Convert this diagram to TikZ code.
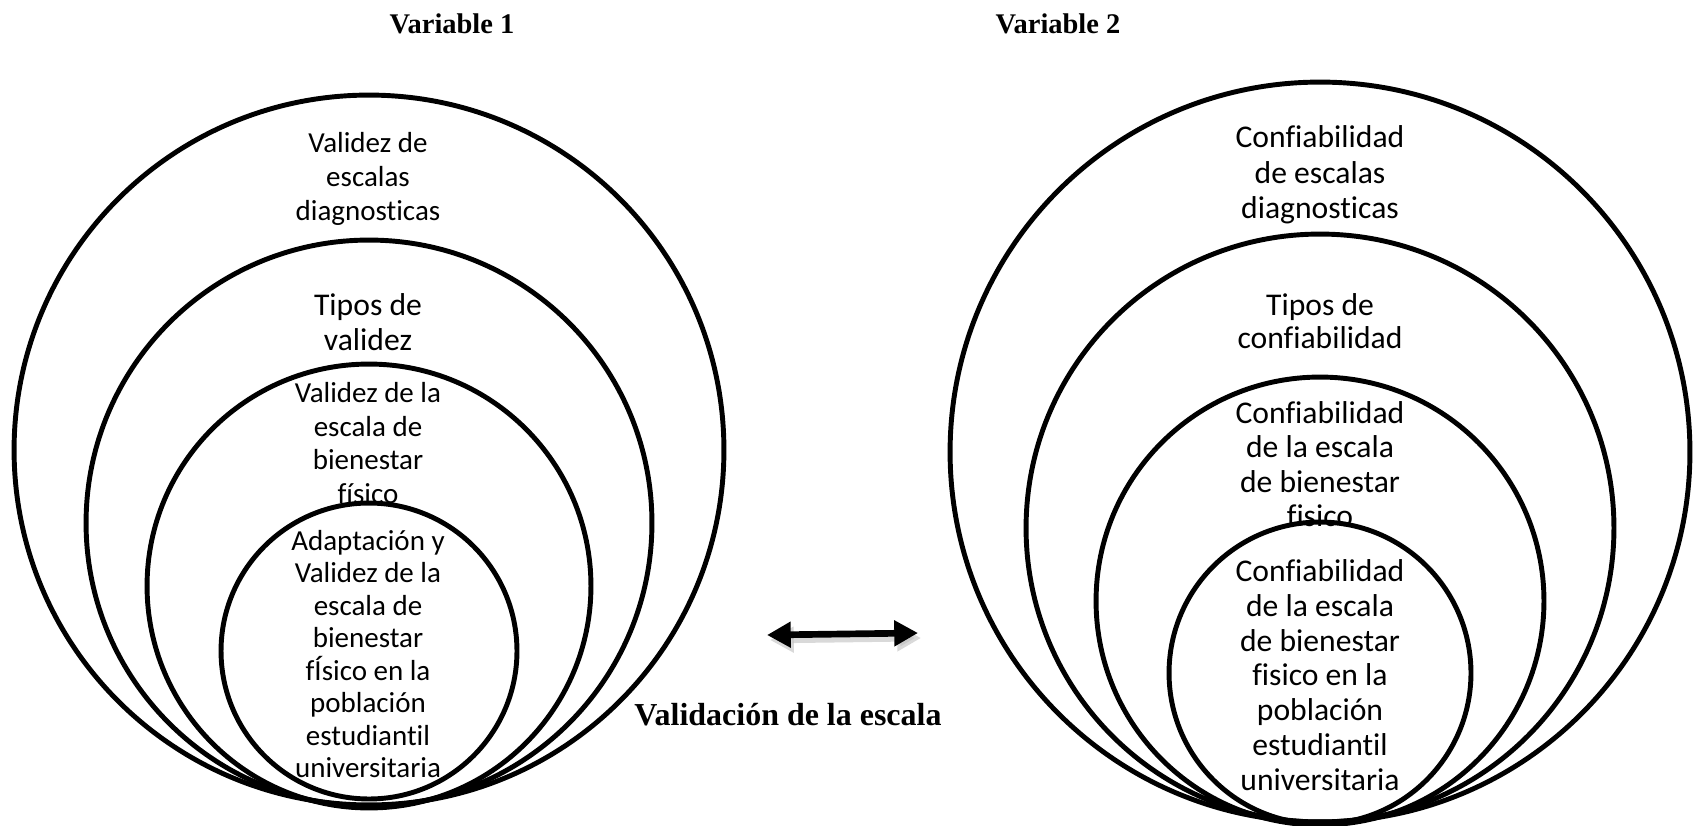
\documentclass[tikz,border=0pt]{standalone}
\usepackage{fontspec}
\setmainfont{Liberation Serif}
\newfontfamily\carl[Ligatures={NoCommon}]{Carlito}
\usetikzlibrary{arrows.meta}
\tikzset{
  ring/.style={circle, draw, line width=2.8pt, inner sep=0pt, outer sep=0pt},
  head/.style={font=\bfseries\fontsize{16.2}{19}\selectfont},
  ctext/.style={align=center, inner sep=0pt},
  bigarrow/.style={line width=3.8pt, {Triangle[length=13.5pt,width=14pt]}-{Triangle[length=13.5pt,width=14pt]}},
}
\begin{document}
\begin{tikzpicture}[x=0.02cm, y=-0.02cm]
\useasboundingbox (0,0) rectangle (1702,825);
% headings
\node[head] (v1) at (452,24) {Variable 1};
\node[head] (v2) at (1058,24) {Variable 2};
\node[font=\bfseries\fontsize{18.2}{21}\selectfont] (val) at (788,715) {Validación de la escala};
% left circles
\node[ring, minimum size=14.2cm] (L1) at (369,450) {};
\node[ring, minimum size=11.32cm] (L2) at (369,523) {};
\node[ring, minimum size=8.88cm] (L3) at (369,586) {};
\node[ring, minimum size=5.92cm] (L4) at (369,651) {};
% right circles
\node[ring, minimum size=14.8cm] (R1) at (1320,452) {};
\node[ring, minimum size=11.76cm] (R2) at (1320,528) {};
\node[ring, minimum size=8.96cm] (R3) at (1320,601) {};
\node[ring, minimum size=6.04cm] (R4) at (1320,673) {};
% left texts
\node[ctext, font=\carl\fontsize{16.5}{19.3}\selectfont] (tL1) at (368,179) {Validez de\\escalas\\diagnosticas};
\node[ctext, font=\carl\fontsize{18}{19.8}\selectfont] (tL2) at (368,322) {Tipos de\\validez};
\node[ctext, font=\carl\fontsize{16.5}{19}\selectfont] (tL3) at (368,443) {Validez de la\\escala de\\bienestar\\físico};
\node[ctext, font=\carl\fontsize{16.5}{18.5}\selectfont] (tL4) at (368,654) {Adaptación y\\Validez de la\\escala de\\bienestar\\fÍsico en la\\población\\estudiantil\\universitaria};
% right texts
\node[ctext, font=\carl\fontsize{18}{20.3}\selectfont] (tR1) at (1320,175) {Confiabilidad\\de escalas\\diagnosticas};
\node[ctext, font=\carl\fontsize{18}{19}\selectfont] (tR2) at (1320,321) {Tipos de\\confiabilidad};
\node[ctext, font=\carl\fontsize{18}{19.5}\selectfont] (tR3) at (1320,464) {Confiabilidad\\de la escala\\de bienestar\\fisico};
\node[ctext, font=\carl\fontsize{18}{19.8}\selectfont] (tR4) at (1320,675) {Confiabilidad\\de la escala\\de bienestar\\fisico en la\\población\\estudiantil\\universitaria};
% arrow
\coordinate (aL) at (767,635);
\coordinate (aR) at (918,633);
\coordinate (sL) at (770,640);
\coordinate (sR) at (921,638);
\draw[bigarrow, black!25, opacity=0.6] (sL) -- (sR);
\draw[bigarrow] (aL) -- (aR);
\end{tikzpicture}
\end{document}
